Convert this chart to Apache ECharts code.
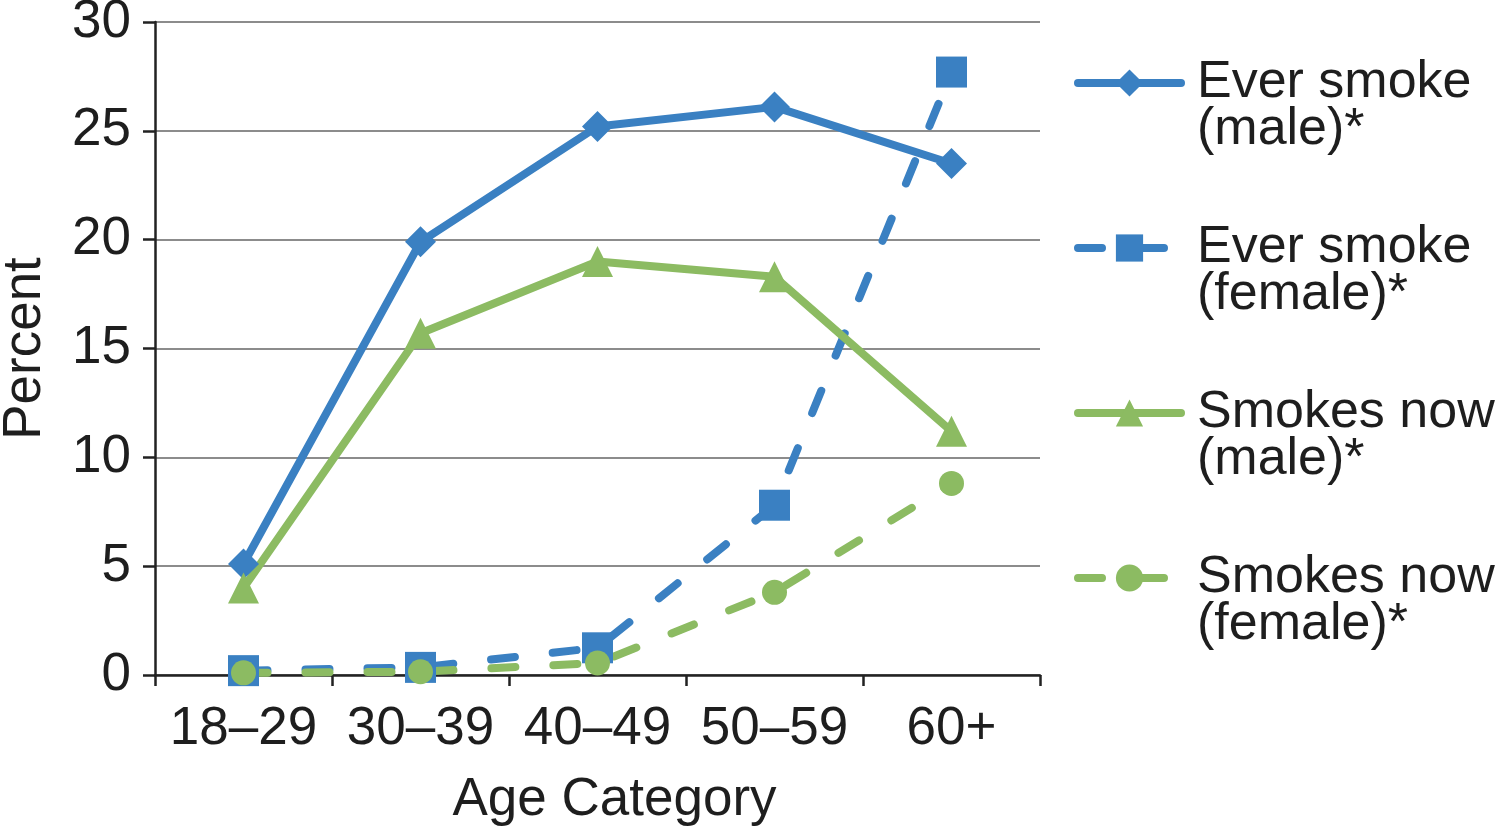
<!DOCTYPE html>
<html>
<head>
<meta charset="utf-8">
<script src="https://cdn.jsdelivr.net/npm/echarts@6/dist/echarts.min.js"></script>
<style>
html,body{margin:0;padding:0;background:#fff;}
#chart{width:1500px;height:831px;}
</style>
</head>
<body>
<div id="chart"></div>
<script>
const categories = ['18–29', '30–39', '40–49', '50–59', '60+'];
const everSmokeMale = [5.1, 19.9, 25.2, 26.1, 23.5];
const everSmokeFemale = [0.2, 0.35, 1.25, 7.8, 27.7];
const smokesNowMale = [4.0, 15.7, 19.0, 18.3, 11.2];
const smokesNowFemale = [0.1, 0.15, 0.55, 3.8, 8.8];
const seriesNames = ['Ever smoke\n(male)*', 'Ever smoke\n(female)*', 'Smokes now\n(male)*', 'Smokes now\n(female)*'];
const yTicks = [0, 5, 10, 15, 20, 25, 30];

const BLUE = '#3A80C2';
const GREEN = '#8CBB62';
const FONT = '"Liberation Sans", Arial, Helvetica, sans-serif';
const TXT = '#1e1e1e';
const DASH = [24, 38];
const FS = 53;

const chart = echarts.init(document.getElementById('chart'), null, {renderer: 'canvas'});

function mk(name, data, color, dashed, symbol, size) {
  return {
    name: name,
    type: 'line',
    data: data,
    symbol: symbol,
    symbolSize: size,
    lineStyle: {color: color, width: 8, type: dashed ? DASH : 'solid', cap: 'round', join: 'round'},
    itemStyle: {color: color},
    animation: false
  };
}

chart.setOption({
  animation: false,
  backgroundColor: '#fff',
  grid: {left: 155, right: 460, top: 22, bottom: 156, containLabel: false, outerBoundsMode: 'none'},
  legend: {
    orient: 'vertical',
    left: 1074,
    top: 10,
    padding: 0,
    itemWidth: 103,
    itemHeight: 34,
    itemGap: 19,
    data: seriesNames,
    formatter: function (n) { return '\n' + n; },
    lineStyle: {width: 8, cap: 'round'},
    textStyle: {fontFamily: FONT, fontSize: 52, color: TXT, lineHeight: 47, padding: [0, 0, 0, 11]}
  },
  xAxis: {
    type: 'category',
    data: categories,
    boundaryGap: true,
    name: 'Age Category',
    nameLocation: 'middle',
    nameGap: 99,
    nameTextStyle: {fontFamily: FONT, fontSize: FS, color: TXT, padding: [0, 0, 0, 34]},
    axisLine: {lineStyle: {color: '#222', width: 2.5}},
    axisTick: {show: true, length: 11, alignWithLabel: false, lineStyle: {color: '#222', width: 2.5}},
    axisLabel: {fontFamily: FONT, fontSize: FS, color: TXT, margin: 28, interval: 0},
    splitLine: {show: false}
  },
  yAxis: {
    type: 'value',
    min: yTicks[0],
    max: yTicks[yTicks.length - 1],
    interval: 5,
    name: 'Percent',
    nameLocation: 'middle',
    nameGap: 103,
    nameTextStyle: {fontFamily: FONT, fontSize: FS, color: TXT},
    axisLine: {show: true, lineStyle: {color: '#222', width: 2.5}},
    axisTick: {show: true, length: 12, inside: false, lineStyle: {color: '#222', width: 2.5}},
    axisLabel: {fontFamily: FONT, fontSize: FS, color: TXT, margin: 24},
    splitLine: {show: true, lineStyle: {color: '#8c8c8c', width: 2}}
  },
  series: [
    mk(seriesNames[0], everSmokeMale, BLUE, false, 'diamond', 31),
    mk(seriesNames[1], everSmokeFemale, BLUE, true, 'rect', 31),
    mk(seriesNames[2], smokesNowMale, GREEN, false, 'triangle', [31, 31]),
    mk(seriesNames[3], smokesNowFemale, GREEN, true, 'circle', 25)
  ]
});
</script>
</body>
</html>
